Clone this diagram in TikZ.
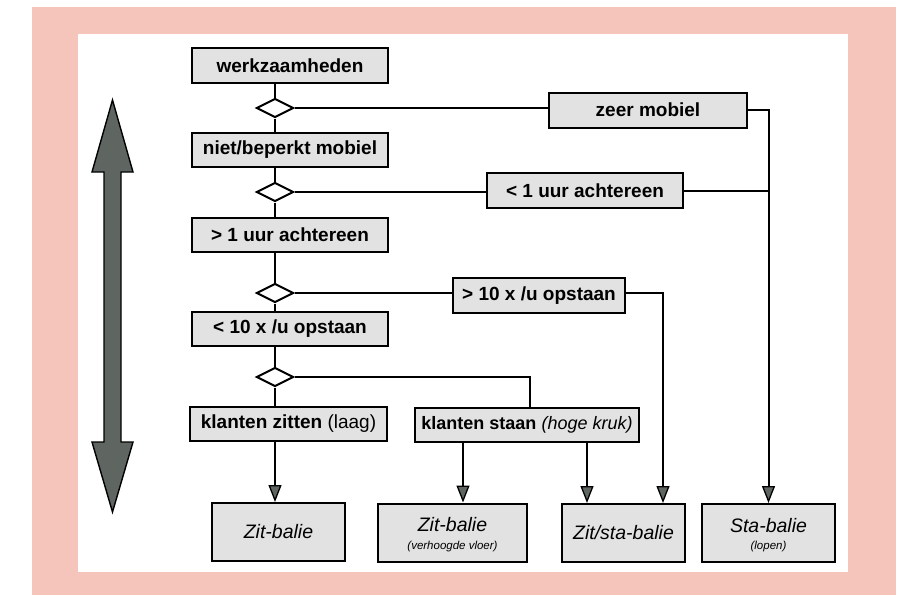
\documentclass[tikz,border=0pt]{standalone}
\usepackage{fontspec}
\setmainfont{Liberation Sans}
\usetikzlibrary{arrows.meta,shapes.geometric}
\definecolor{pinkbg}{RGB}{245,197,187}
\definecolor{arrowgray}{RGB}{95,102,98}
\definecolor{boxgray}{RGB}{226,226,226}
\begin{document}
\begin{tikzpicture}[x=1pt,y=-1pt,
  box/.style={draw=black, line width=2pt, fill=boxgray, inner sep=0pt,
    font=\fontsize{19}{21}\selectfont\bfseries},
  endbox/.style={draw=black, line width=2pt, fill=boxgray, inner sep=0pt, align=center,
    font=\fontsize{19.5}{21}\selectfont\itshape},
  dia/.style={diamond, draw=black, line width=2pt, fill=white, minimum width=37pt,
    minimum height=19pt, inner sep=0pt},
  conn/.style={line width=2pt},
  arr/.style={line width=2pt, -{Triangle[length=17pt,width=13pt,fill=arrowgray,line width=1.3pt]}},
  small/.style={font=\fontsize{11.5}{12}\selectfont\itshape}
]
\useasboundingbox (0,0) rectangle (907,595);
\fill[white] (0,0) rectangle (907,595);
\fill[pinkbg] (32,7) rectangle (896,595);
\fill[white] (78,34) rectangle (848,572);

% big double arrow
\draw[line width=1.4pt, fill=arrowgray, line join=miter]
  (112.5,100) -- (133,172) -- (121,172) -- (121,442) -- (133,442) -- (112.5,512)
  -- (92,442) -- (104,442) -- (104,172) -- (92,172) -- cycle;

% left column
\node[box, minimum width=196pt, minimum height=35pt] (werk) at (290,65.5) {werkzaamheden};
\node[dia] (d1) at (275,108) {};
\node[box, minimum width=196pt, minimum height=34pt] (niet) at (290,150) {niet/beperkt mobiel};
\node[dia] (d2) at (275,192) {};
\node[box, minimum width=196pt, minimum height=34pt] (gt1) at (290,235) {> 1 uur achtereen};
\node[dia] (d3) at (275,293) {};
\node[box, minimum width=196pt, minimum height=34pt] (lt10) at (290,329) {< 10 x /u opstaan};
\node[dia] (d4) at (275,377) {};
\node[box, minimum width=197pt, minimum height=34pt] (zit) at (288.5,424) {klanten zitten {\mdseries(laag)}};

% right boxes
\node[box, minimum width=198pt, minimum height=35pt] (zeer) at (648,110) {zeer mobiel};
\node[box, minimum width=196pt, minimum height=35pt] (lt1) at (585,190.5) {< 1 uur achtereen};
\node[box, minimum width=172pt, minimum height=35pt] (gt10) at (539,295.5) {> 10 x /u opstaan};
\node[box, minimum width=224pt, minimum height=34pt, font=\fontsize{18}{20}\selectfont\bfseries] (staan) at (527,425) {klanten staan {\mdseries\itshape(hoge kruk)}};

% end boxes
\node[endbox, minimum width=133pt, minimum height=58pt] (zb1) at (278.5,532) {Zit-balie};
\node[endbox, minimum width=149pt, minimum height=58pt] (zb2) at (452.5,532.5) {};
\node[anchor=center, font=\fontsize{19.5}{21}\selectfont\itshape] (zb2t) at (452.5,525) {Zit-balie};
\node[small] (zb2s) at (452.5,547) {(verhoogde vloer)};
\node[endbox, minimum width=123pt, minimum height=58pt] (zs) at (623.5,533) {Zit/sta-balie};
\node[endbox, minimum width=133pt, minimum height=58pt] (sb) at (768.5,533) {};
\node[anchor=center, font=\fontsize{19.5}{21}\selectfont\itshape] (sbt) at (768.5,526) {Sta-balie};
\node[small] (sbs) at (768.5,547) {(lopen)};

% helper x positions
\coordinate (x463) at (463,0);
\coordinate (x587) at (587,0);
\coordinate (x663) at (663,0);
\coordinate (x530) at (530,0);

% vertical spine
\draw[conn] (werk.south -| d1) -- (d1.north);
\draw[conn] (d1.south) -- (niet.north -| d1);
\draw[conn] (niet.south -| d2) -- (d2.north);
\draw[conn] (d2.south) -- (gt1.north -| d2);
\draw[conn] (gt1.south -| d3) -- (d3.north);
\draw[conn] (d3.south) -- (lt10.north -| d3);
\draw[conn] (lt10.south -| d4) -- (d4.north);
\draw[conn] (d4.south) -- (zit.north -| d4);

% horizontals to right boxes
\draw[conn] (d1.east) -- (d1.east -| zeer.west);
\draw[conn] (d2.east) -- (d2.east -| lt1.west);
\draw[conn] (d3.east) -- (d3.east -| gt10.west);
\draw[conn] (d4.east) -| (staan.north -| x530);

% right-hand routes
\draw[arr] (zeer.east) -| (sb.north);
\draw[conn] (lt1.east) -- (lt1.east -| sb.north);
\draw[arr] (gt10.east |- d3) -| (zs.north -| x663);

% arrows into end boxes
\draw[arr] (zit.south -| d4) -- (zb1.north -| d4);
\draw[arr] (staan.south -| x463) -- (zb2.north -| x463);
\draw[arr] (staan.south -| x587) -- (zs.north -| x587);
\end{tikzpicture}
\end{document}
